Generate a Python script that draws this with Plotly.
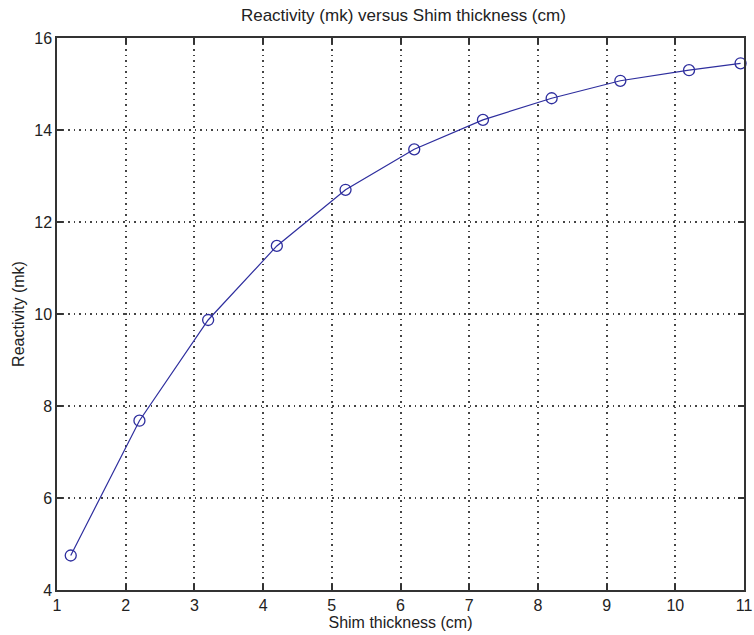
import plotly.graph_objects as go

thickness_cm = [1.2, 2.2, 3.2, 4.2, 5.2, 6.2, 7.2, 8.2, 9.2, 10.2, 10.95]
reactivity_mk = [4.75, 7.68, 9.87, 11.48, 12.70, 13.58, 14.22, 14.69, 15.07, 15.30, 15.45]
x_ticks = list(range(1, 12))
y_ticks = [4, 6, 8, 10, 12, 14, 16]

fig = go.Figure()
fig.add_trace(go.Scatter(
    x=thickness_cm, y=reactivity_mk, mode="lines+markers",
    line=dict(color="#2e2e9e", width=1.2),
    marker=dict(symbol="circle-open", size=11, color="#2e2e9e", line=dict(width=1.3)),
    showlegend=False, cliponaxis=False,
))

font = "Liberation Sans, Arial, sans-serif"
axis_common = dict(
    showline=True, linecolor="#333333", linewidth=1.5, mirror="ticks",
    ticks="inside", ticklen=6, tickcolor="#333333", tickwidth=1.5,
    showgrid=True, gridcolor="#444444", griddash="1.5px,4px", gridwidth=1.5,
    zeroline=False, tickfont=dict(family=font, size=16, color="#222222"),
    ticklabeloverflow="allow", automargin=False,
)

fig.update_layout(
    width=754, height=635,
    margin=dict(l=57, r=10, t=38, b=45),
    paper_bgcolor="white", plot_bgcolor="white",
    title=dict(text="Reactivity (mk) versus Shim thickness (cm)", x=0.535, xanchor="center",
               y=0.976, yanchor="middle", font=dict(family=font, size=17, color="#222222")),
    xaxis=dict(range=[1, 11], tickvals=x_ticks, title=dict(text="Shim thickness (cm)", standoff=2,
               font=dict(family=font, size=16, color="#222222")), **axis_common),
    yaxis=dict(range=[4, 16], tickvals=y_ticks, title=dict(text="Reactivity (mk)", standoff=6,
               font=dict(family=font, size=16, color="#222222")), **axis_common),
)

fig.write_html(
    "out.html",
    config={"displayModeBar": False},
    post_script="document.body.style.margin='0';document.body.style.overflow='hidden';",
)
